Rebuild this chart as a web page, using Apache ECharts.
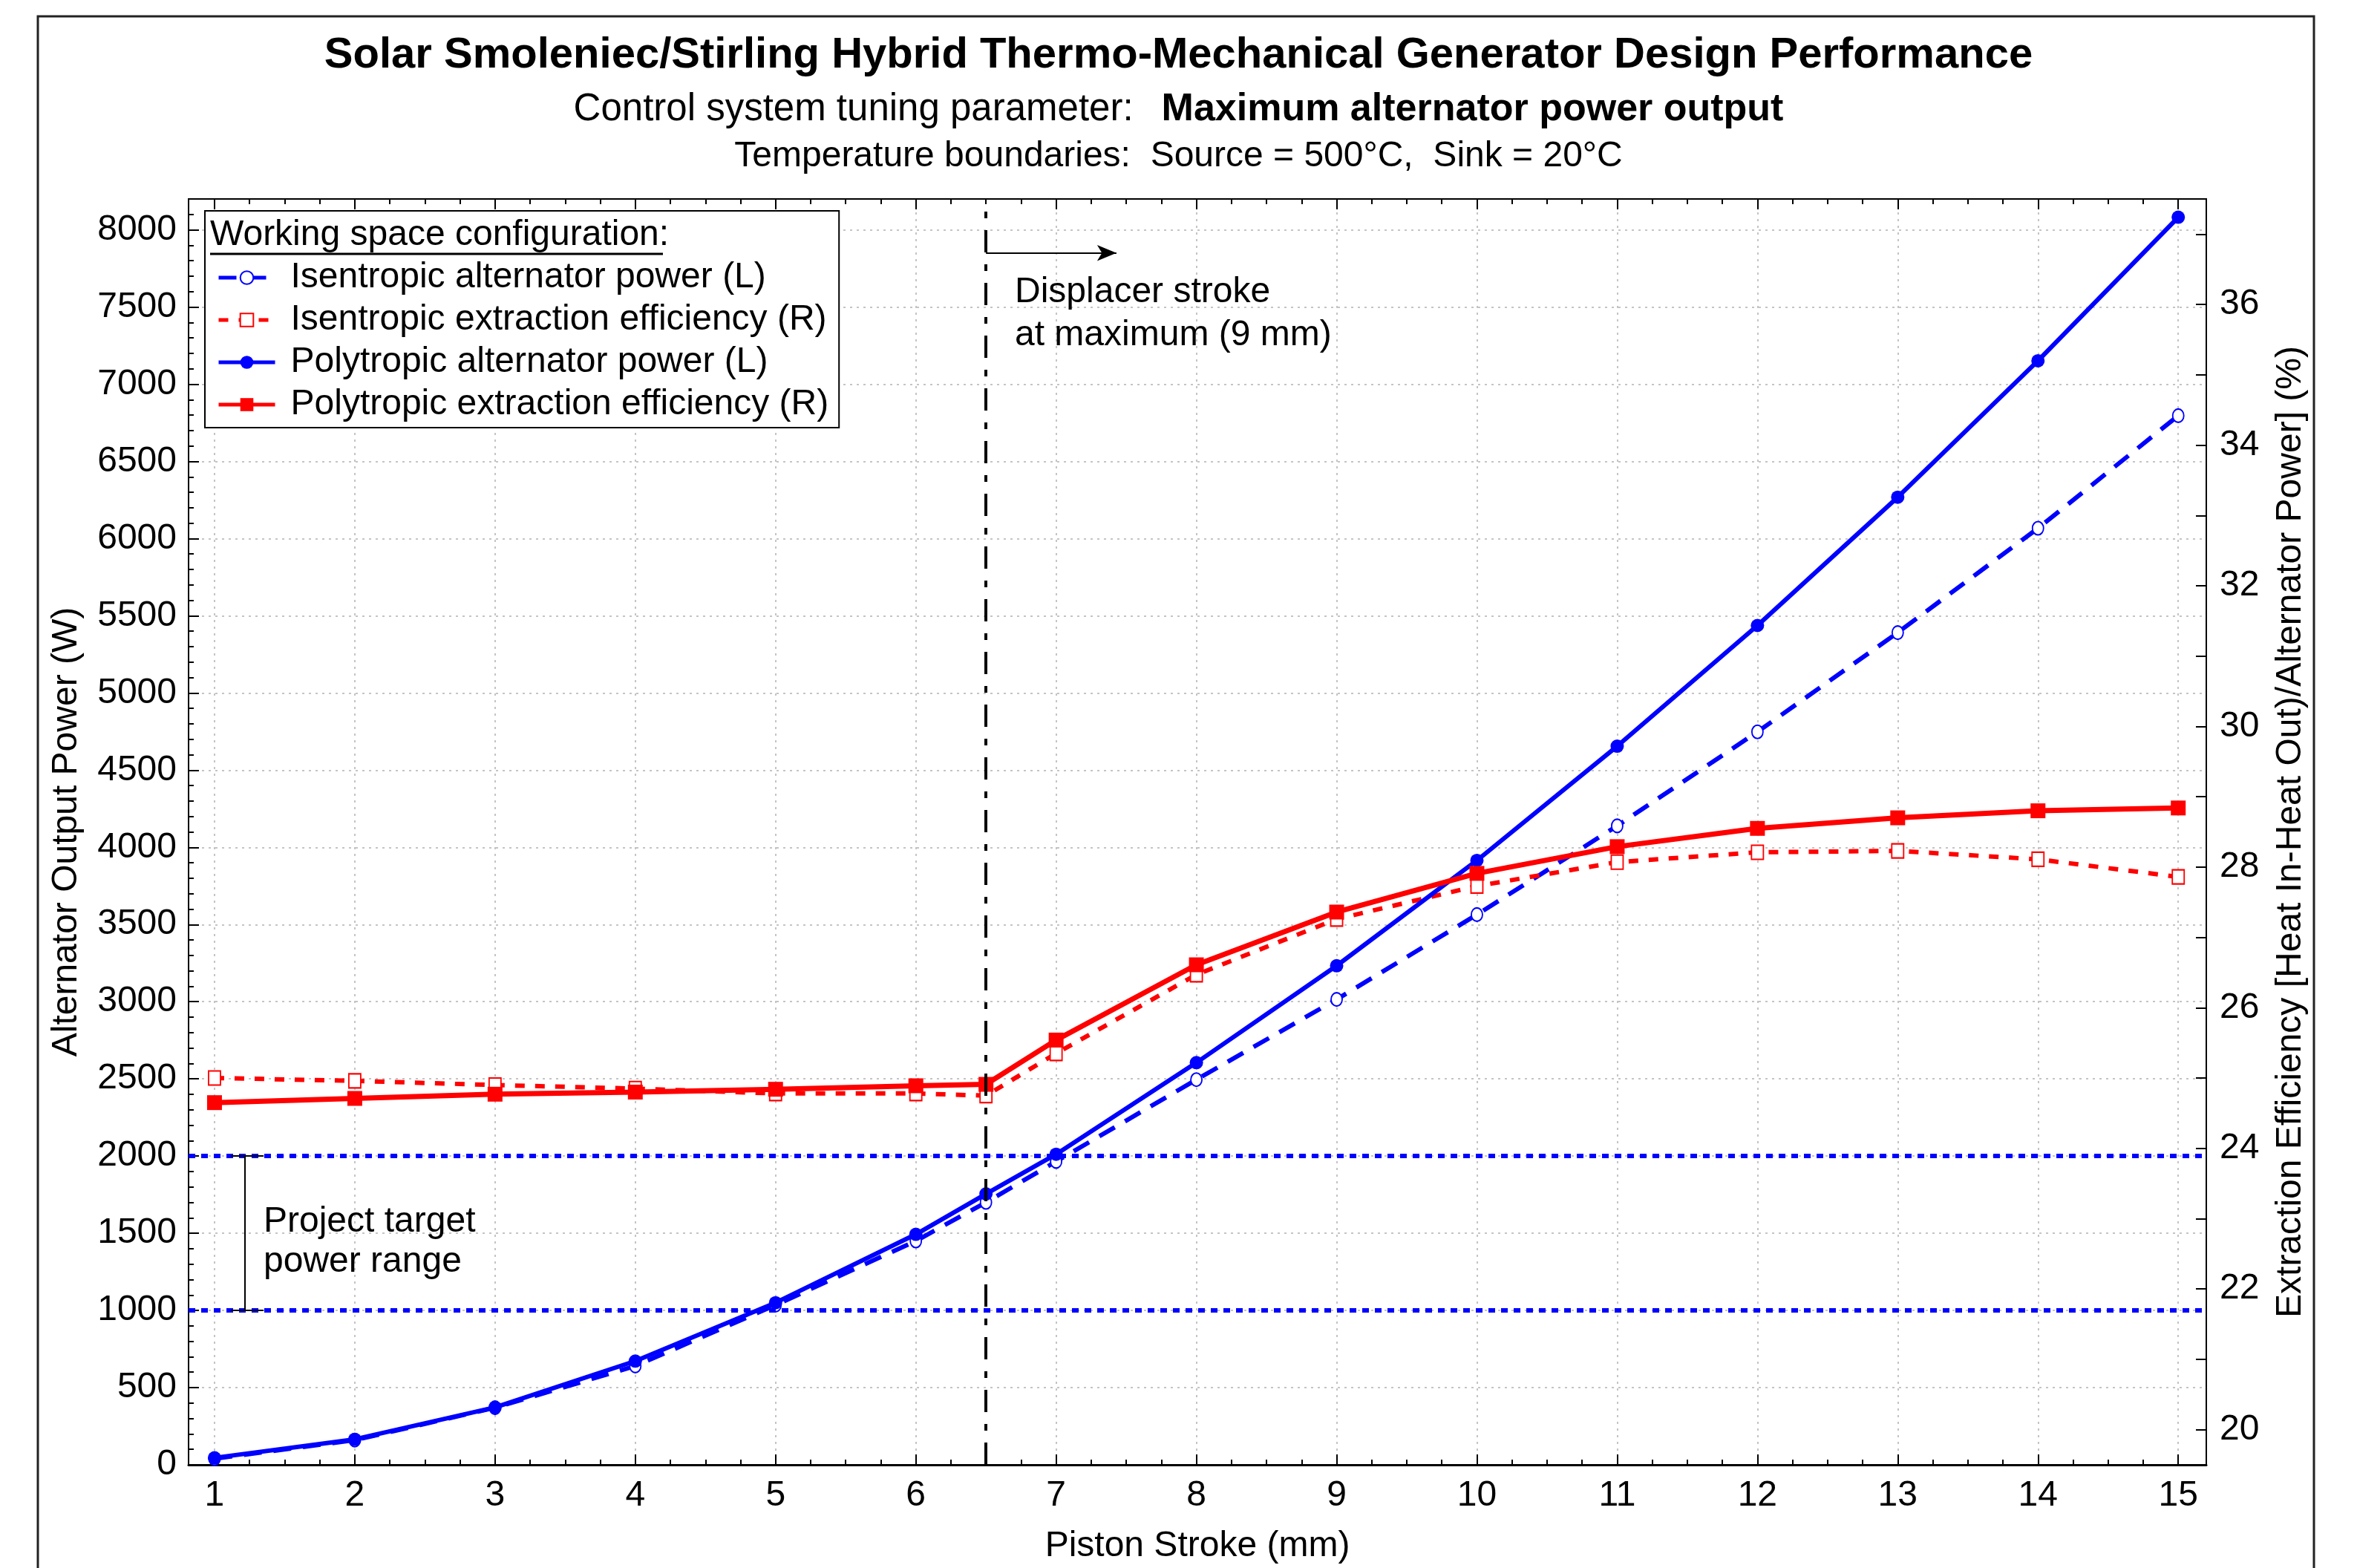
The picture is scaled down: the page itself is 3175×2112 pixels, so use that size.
<!DOCTYPE html>
<html>
<head>
<meta charset="utf-8">
<script src="https://cdn.jsdelivr.net/npm/echarts@6/dist/echarts.min.js"></script>
<style>
  html, body { margin: 0; padding: 0; background: #fff; }
  #main { width: 3175px; height: 2112px; }
</style>
</head>
<body>
<div id="main"></div>
<script>
// piston stroke (mm); 6.5 is the point where the displacer reaches its maximum
var strokes = [1, 2, 3, 4, 5, 6, 6.5, 7, 8, 9, 10, 11, 12, 13, 14, 15];
var isenPower = [40, 160, 370, 640, 1035, 1450, 1700, 1965, 2495, 3015, 3564, 4139, 4748, 5391, 6067, 6796];
var polyPower = [45, 165, 372, 672, 1050, 1493, 1755, 2012, 2605, 3233, 3915, 4655, 5437, 6268, 7152, 8082];
var isenEff = [25.00, 24.96, 24.90, 24.85, 24.78, 24.78, 24.75, 25.35, 26.47, 27.26, 27.73, 28.07, 28.21, 28.23, 28.11, 27.86];
var polyEff = [24.65, 24.71, 24.77, 24.80, 24.84, 24.89, 24.91, 25.54, 26.61, 27.36, 27.91, 28.29, 28.55, 28.70, 28.80, 28.84];

var xTicks = [1, 2, 3, 4, 5, 6, 7, 8, 9, 10, 11, 12, 13, 14, 15];
var powerTicks = [0, 500, 1000, 1500, 2000, 2500, 3000, 3500, 4000, 4500, 5000, 5500, 6000, 6500, 7000, 7500, 8000];
var effLabels = [20, 22, 24, 26, 28, 30, 32, 34, 36];
var effTicks = [20, 21, 22, 23, 24, 25, 26, 27, 28, 29, 30, 31, 32, 33, 34, 35, 36, 37];

var targetRange = [1000, 2000];
var displacerMax = 6.5;
var arrowSpan = [6.5, 7.43, 7850];       // x from, x to, at power level
var bracketX = [1.116, 1.217, 1.349];    // cap left, bar, cap right

var names = [
  'Isentropic alternator power (L)',
  'Isentropic extraction efficiency (R)',
  'Polytropic alternator power (L)',
  'Polytropic extraction efficiency (R)'
];

var FONT = "'Liberation Sans', Arial, sans-serif";
var BLUE = '#0000ff';
var RED = '#ff0000';

// minor tick positions between the labelled ones
var xMinor = [];
xTicks.forEach(function (v) { [0, 0.25, 0.5, 0.75].forEach(function (d) { xMinor.push(v + d); }); });
xMinor.unshift(0.75);
var powerMinor = [];
powerTicks.forEach(function (v) { for (var k = 0; k < 5; k++) powerMinor.push(v + k * 100); });

function pairs(ys) {
  return strokes.map(function (x, i) { return [x, ys[i]]; });
}
function plain(v) { return String(v); }

var xRange = { min: 0.815, max: 15.2 };
var gridLine = { show: true, lineStyle: { color: '#c4c4c4', width: 2, type: [3, 6] } };

function xAxisDef(pos, major) {
  return {
    type: 'value', position: pos, min: xRange.min, max: xRange.max,
    axisLine: { show: major, onZero: false, lineStyle: { color: '#000', width: pos === 'bottom' ? 3 : 2 } },
    axisTick: { show: true, inside: true, length: major ? 14 : 7, customValues: major ? xTicks : xMinor,
                lineStyle: { color: '#000', width: 2 } },
    axisLabel: { show: pos === 'bottom' && major, customValues: xTicks, margin: 18, formatter: plain,
                 fontSize: 48, fontFamily: FONT, color: '#000' },
    splitLine: pos === 'bottom' && major ? gridLine : { show: false },
    name: pos === 'bottom' && major ? 'Piston Stroke (mm)' : '',
    nameLocation: 'middle', nameGap: 86,
    nameTextStyle: { fontSize: 48, fontFamily: FONT, color: '#000' }
  };
}

var option = {
  backgroundColor: '#fff',
  animation: false,
  title: [
    {
      text: 'Solar Smoleniec/Stirling Hybrid Thermo-Mechanical Generator Design Performance',
      left: 'center', top: 46, padding: 0,
      textStyle: { fontSize: 58, fontWeight: 'bold', fontFamily: FONT, color: '#000' }
    },
    {
      text: '{n|Control system tuning parameter:}{b|Maximum alternator power output}',
      left: 'center', top: 122, padding: 0,
      textStyle: {
        fontWeight: 'normal',
        rich: {
          n: { fontSize: 51, fontFamily: FONT, fontWeight: 'normal', color: '#000' },
          b: { fontSize: 52, fontFamily: FONT, fontWeight: 'bold', color: '#000', padding: [0, 0, 0, 38] }
        }
      }
    },
    {
      text: 'Temperature boundaries:  Source = 500°C,  Sink = 20°C',
      left: 'center', top: 187, padding: 0,
      textStyle: { fontSize: 48, fontWeight: 'normal', fontFamily: FONT, color: '#000' }
    }
  ],
  grid: { left: 254, right: 203, top: 268, bottom: 136, show: true, borderColor: '#000', borderWidth: 2 },
  legend: {
    orient: 'vertical', left: 276, top: 284,
    padding: [66, 14, 7, 16],
    borderColor: '#000', borderWidth: 2, backgroundColor: '#fff',
    itemWidth: 76, itemHeight: 22, itemGap: 9,
    lineStyle: { width: 5 },
    textStyle: { fontSize: 48, fontFamily: FONT, color: '#000', padding: [0, 0, 0, 16] },
    data: names
  },
  xAxis: [xAxisDef('bottom', true), xAxisDef('bottom', false), xAxisDef('top', true), xAxisDef('top', false)],
  yAxis: [
    {
      type: 'value', position: 'left', min: 0, max: 8200,
      name: 'Alternator Output Power (W)', nameLocation: 'middle', nameGap: 140, nameRotate: 90,
      nameTextStyle: { fontSize: 48, fontFamily: FONT, color: '#000' },
      axisLine: { show: true, onZero: false, lineStyle: { color: '#000', width: 2 } },
      axisTick: { show: true, inside: true, length: 14, customValues: powerTicks, lineStyle: { color: '#000', width: 2 } },
      axisLabel: { customValues: powerTicks, margin: 16, formatter: plain, fontSize: 48, fontFamily: FONT, color: '#000' },
      splitLine: gridLine
    },
    {
      type: 'value', position: 'right', min: 19.5, max: 37.5,
      name: 'Extraction Efficiency [Heat In-Heat Out)/Alternator Power] (%)',
      nameLocation: 'middle', nameGap: 90, nameRotate: 90,
      nameTextStyle: { fontSize: 48, fontFamily: FONT, color: '#000' },
      axisLine: { show: true, onZero: false, lineStyle: { color: '#000', width: 2 } },
      axisTick: { show: true, inside: true, length: 14, customValues: effTicks, lineStyle: { color: '#000', width: 2 } },
      axisLabel: { customValues: effLabels, margin: 18, formatter: plain, fontSize: 48, fontFamily: FONT, color: '#000' },
      splitLine: { show: false }
    },
    {
      type: 'value', position: 'left', min: 0, max: 8200,
      axisLine: { show: false },
      axisTick: { show: true, inside: true, length: 7, customValues: powerMinor, lineStyle: { color: '#000', width: 2 } },
      axisLabel: { show: false },
      splitLine: { show: false }
    }
  ],
  series: [
    {
      name: names[0], type: 'line', yAxisIndex: 0, z: 3,
      data: pairs(isenPower),
      symbol: 'emptyCircle', symbolSize: [15, 18],
      color: BLUE,
      itemStyle: { color: BLUE, borderWidth: 2.5 },
      lineStyle: { color: BLUE, width: 6, type: [24, 16] },
      markLine: {
        silent: true, symbol: 'none', label: { show: false },
        lineStyle: { color: BLUE, width: 6, type: [9, 8] },
        data: [{ yAxis: targetRange[0] }, { yAxis: targetRange[1] }]
      }
    },
    {
      name: names[1], type: 'line', yAxisIndex: 1, z: 3,
      data: pairs(isenEff),
      symbol: 'emptyRect', symbolSize: [16, 19],
      color: RED,
      itemStyle: { color: RED, borderWidth: 2.5 },
      lineStyle: { color: RED, width: 6, type: [13, 14] }
    },
    {
      name: names[2], type: 'line', yAxisIndex: 0, z: 4,
      data: pairs(polyPower),
      symbol: 'circle', symbolSize: 18,
      color: BLUE,
      itemStyle: { color: BLUE },
      lineStyle: { color: BLUE, width: 6 },
      markLine: {
        silent: true, symbol: 'none', label: { show: false },
        lineStyle: { color: '#000', width: 2, type: 'solid' },
        data: [
          { xAxis: displacerMax, lineStyle: { color: '#000', width: 4, type: [30, 16, 9, 16] } },
          [{ coord: [arrowSpan[0], arrowSpan[2]] },
           { coord: [arrowSpan[1], arrowSpan[2]], symbol: 'arrow', symbolSize: [16, 26], symbolRotate: -90 }],
          [{ coord: [bracketX[1], targetRange[0]] }, { coord: [bracketX[1], targetRange[1]] }],
          [{ coord: [bracketX[0], targetRange[0]] }, { coord: [bracketX[2], targetRange[0]] }],
          [{ coord: [bracketX[0], targetRange[1]] }, { coord: [bracketX[2], targetRange[1]] }]
        ]
      }
    },
    {
      name: names[3], type: 'line', yAxisIndex: 1, z: 4,
      data: pairs(polyEff),
      symbol: 'rect', symbolSize: 20,
      color: RED,
      itemStyle: { color: RED },
      lineStyle: { color: RED, width: 7 }
    }
  ],
  graphic: [
    { type: 'rect', shape: { x: 51, y: 22, width: 3066, height: 2200 },
      style: { fill: 'none', stroke: '#222', lineWidth: 3 }, silent: true, z: 0 },
    { type: 'text', x: 283, y: 293, z: 100,
      style: { text: 'Working space configuration:', font: '48px ' + FONT, fill: '#000' } },
    { type: 'line', shape: { x1: 283, y1: 342, x2: 893, y2: 342 }, z: 100,
      style: { stroke: '#000', lineWidth: 3 } },
    { type: 'text', x: 1367, y: 365, z: 100,
      style: { text: 'Displacer stroke\nat maximum (9 mm)', font: '48px ' + FONT, fill: '#000', lineHeight: 58 } },
    { type: 'text', x: 355, y: 1619, z: 100,
      style: { text: 'Project target\npower range', font: '48px ' + FONT, fill: '#000', lineHeight: 54 } }
  ]
};

var chart = echarts.init(document.getElementById('main'));
chart.setOption(option);
</script>
</body>
</html>
